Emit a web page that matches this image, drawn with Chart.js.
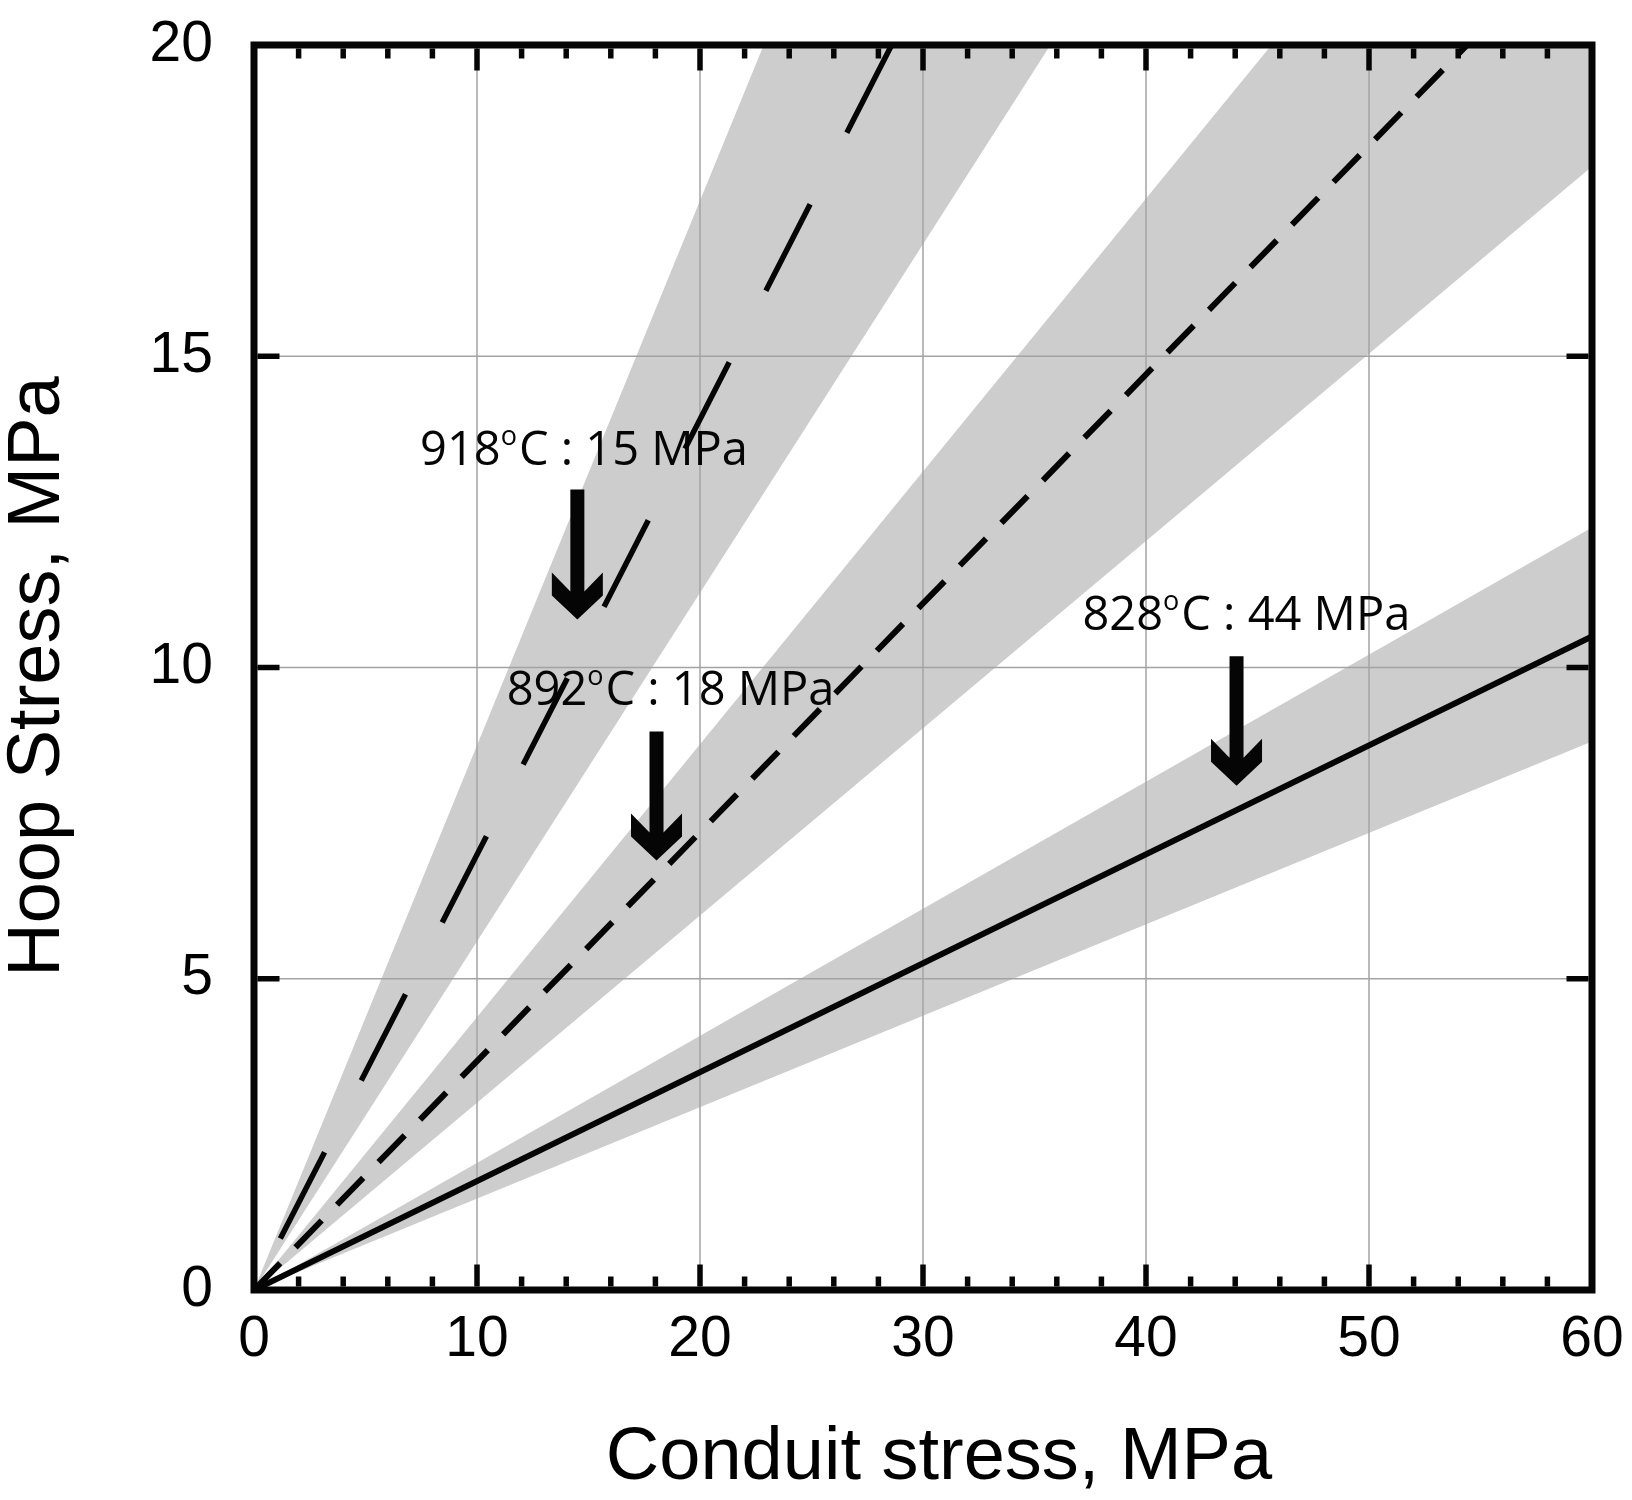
<!DOCTYPE html>
<html>
<head>
<meta charset="utf-8">
<script src="https://cdn.jsdelivr.net/npm/chart.js@4/dist/chart.umd.min.js"></script>
<style>
  html, body { margin: 0; padding: 0; background: #fff; }
  #wrap { width: 1632px; height: 1500px; }
</style>
</head>
<body>
<div id="wrap"><canvas id="c" width="1632" height="1500"></canvas></div>
<script>
// ---------- data ----------
const xTickValues = [0, 10, 20, 30, 40, 50, 60];
const yTickValues = [0, 5, 10, 15, 20];
const xTitle = 'Conduit stress, MPa';
const yTitle = 'Hoop Stress, MPa';
const lineX = [0, 60];                         // conduit stress, MPa
// Hoop stress at conduit stress 0 and 60 MPa (lines clipped at 20)
const line918 = [0, 41.96];
const line892 = [0, 22.06];
const line828 = [0, 10.5];
const band918Upper = [0, 52.5];
const band918Lower = [0, 33.6];
const band892Upper = [0, 26.3];
const band892Lower = [0, 18.05];
const band828Upper = [0, 12.25];
const band828Lower = [0, 8.81];
// annotations
const labelTemps = ['918', '892', '828'];
const labelStress = ['15', '18', '44'];
const labelX = [14.8, 18.68, 44.5];
const labelY = [13.25, 9.39, 10.61];
const arrowX = [14.5, 18.05, 44.06];
const arrowTop = [12.86, 8.97, 10.18];
const arrowTip = [10.77, 6.90, 8.10];

const pts = ys => lineX.map((x, i) => ({x: x, y: ys[i]}));
const GREY = '#cdcdcd';
const INK = '#050505';
const SANS = '"Liberation Sans", Arial, sans-serif';

function band(upper, lower) {
  return [
    {data: pts(upper), fill: '+1', backgroundColor: GREY, borderWidth: 0, borderColor: 'transparent', pointRadius: 0, showLine: true, order: 10},
    {data: pts(lower), fill: false, borderWidth: 0, borderColor: 'transparent', pointRadius: 0, showLine: true, order: 10}
  ];
}

const overlay = {
  id: 'overlay',
  beforeDatasetsDraw(chart) {
    const {ctx, chartArea: a, scales: {x, y}} = chart;
    ctx.save();
    ctx.strokeStyle = '#a3a3a3';
    ctx.lineWidth = 1.5;
    x.ticks.forEach(t => {
      const px = x.getPixelForValue(t.value);
      ctx.beginPath(); ctx.moveTo(px, a.top); ctx.lineTo(px, a.bottom); ctx.stroke();
    });
    y.ticks.forEach(t => {
      const py = y.getPixelForValue(t.value);
      ctx.beginPath(); ctx.moveTo(a.left, py); ctx.lineTo(a.right, py); ctx.stroke();
    });
    ctx.restore();
  },
  afterDatasetsDraw(chart) {
    const {ctx, chartArea: a, scales: {x, y}} = chart;
    ctx.save();
    // ticks (inside, all four sides)
    ctx.strokeStyle = INK;
    ctx.lineWidth = 5.5;
    const fw = 7;
    const inL = a.left + fw / 2, inR = a.right - fw / 2, inT = a.top + fw / 2, inB = a.bottom - fw / 2;
    const xt = x.ticks.map(t => t.value);
    for (let i = 0; i < xt.length; i++) {
      const px = x.getPixelForValue(xt[i]);
      ctx.beginPath(); ctx.moveTo(px, inB); ctx.lineTo(px, inB - 22); ctx.stroke();
      ctx.beginPath(); ctx.moveTo(px, inT); ctx.lineTo(px, inT + 22); ctx.stroke();
      if (i < xt.length - 1) {
        const step = (xt[i + 1] - xt[i]) / 5;
        for (let k = 1; k < 5; k++) {
          const mx = x.getPixelForValue(xt[i] + k * step);
          ctx.beginPath(); ctx.moveTo(mx, inB); ctx.lineTo(mx, inB - 10); ctx.stroke();
          ctx.beginPath(); ctx.moveTo(mx, inT); ctx.lineTo(mx, inT + 10); ctx.stroke();
        }
      }
    }
    y.ticks.forEach(t => {
      const py = y.getPixelForValue(t.value);
      ctx.beginPath(); ctx.moveTo(inL, py); ctx.lineTo(inL + 22, py); ctx.stroke();
      ctx.beginPath(); ctx.moveTo(inR, py); ctx.lineTo(inR - 22, py); ctx.stroke();
    });
    // frame
    ctx.lineWidth = fw;
    ctx.strokeRect(a.left, a.top, a.right - a.left, a.bottom - a.top);

    // arrows
    ctx.fillStyle = INK;
    for (let i = 0; i < arrowX.length; i++) {
      const cx = x.getPixelForValue(arrowX[i]);
      const top = y.getPixelForValue(arrowTop[i]);
      const tip = y.getPixelForValue(arrowTip[i]);
      const sw = 7, hw = 25.5;
      ctx.beginPath();
      ctx.moveTo(cx - sw, top); ctx.lineTo(cx + sw, top);
      ctx.lineTo(cx + sw, tip - 28);
      ctx.lineTo(cx + hw, tip - 47);
      ctx.lineTo(cx + hw, tip - 24);
      ctx.lineTo(cx, tip);
      ctx.lineTo(cx - hw, tip - 24);
      ctx.lineTo(cx - hw, tip - 47);
      ctx.lineTo(cx - sw, tip - 28);
      ctx.closePath();
      ctx.fill();
    }
    // labels
    const mainFont = '47px "Open Sans"';
    const supFont = '27px "Open Sans"';
    ctx.textAlign = 'left';
    ctx.textBaseline = 'alphabetic';
    for (let i = 0; i < labelTemps.length; i++) {
      const a1 = labelTemps[i], s = 'o', c1 = 'C : ' + labelStress[i] + ' MPa';
      ctx.font = mainFont;
      const w1 = ctx.measureText(a1).width, w3 = ctx.measureText(c1).width;
      ctx.font = supFont;
      const w2 = ctx.measureText(s).width;
      const gap = 2;
      const total = w1 + w2 + gap + w3;
      const cx = x.getPixelForValue(labelX[i]);
      const by = y.getPixelForValue(labelY[i]);
      const x0 = cx - total / 2;
      ctx.font = mainFont; ctx.fillText(a1, x0, by);
      ctx.font = supFont; ctx.fillText(s, x0 + w1, by - 20);
      ctx.font = mainFont; ctx.fillText(c1, x0 + w1 + w2 + gap, by);
    }
    ctx.restore();
  },
  afterDraw(chart) {
    const {ctx, chartArea: a} = chart;
    ctx.save();
    ctx.fillStyle = '#000';
    ctx.font = '74px ' + SANS;
    ctx.textAlign = 'center';
    ctx.textBaseline = 'middle';
    // axis titles
    ctx.fillText(xTitle, (a.left + a.right) / 2 + 16, 1459);
    ctx.translate(39, (a.top + a.bottom) / 2 + 9);
    ctx.rotate(-Math.PI / 2);
    ctx.fillText(yTitle, 0, 0);
    ctx.restore();
  }
};

const tickFont = {family: SANS, size: 57};

new Chart(document.getElementById('c'), {
  type: 'scatter',
  data: {
    datasets: [
      {data: pts(line828), borderColor: INK, borderWidth: 6, pointRadius: 0, showLine: true, fill: false, order: 1},
      {data: pts(line892), borderColor: INK, borderWidth: 6, borderDash: [37.5, 22], borderDashOffset: 0, pointRadius: 0, showLine: true, fill: false, order: 1},
      {data: pts(line918), borderColor: INK, borderWidth: 5.5, borderDash: [97, 80.5], borderDashOffset: 119.7, pointRadius: 0, showLine: true, fill: false, order: 1},
      ...band(band828Upper, band828Lower),
      ...band(band892Upper, band892Lower),
      ...band(band918Upper, band918Lower)
    ]
  },
  options: {
    responsive: false,
    animation: false,
    devicePixelRatio: 1,
    layout: {padding: {left: 0, top: 45, right: 40, bottom: 0}},
    plugins: {
      legend: {display: false},
      tooltip: {enabled: false},
      filler: {drawTime: 'beforeDatasetsDraw'}
    },
    scales: {
      x: {
        type: 'linear', min: 0, max: 60,
        afterBuildTicks: s => { s.ticks = xTickValues.map(v => ({value: v})); },
        ticks: {font: tickFont, color: '#000', padding: 16, maxRotation: 0, autoSkip: false},
        grid: {display: false, drawTicks: false, tickLength: 0},
        border: {display: false},
        title: {display: false, text: xTitle},
        afterFit: s => { s.height = 210; s.paddingLeft = 0; s.paddingRight = 0; }
      },
      y: {
        type: 'linear', min: 0, max: 20,
        afterBuildTicks: s => { s.ticks = yTickValues.map(v => ({value: v})); },
        ticks: {font: tickFont, color: '#000', padding: 41, autoSkip: false},
        grid: {display: false, drawTicks: false, tickLength: 0},
        border: {display: false},
        title: {display: false, text: yTitle},
        afterFit: s => { s.width = 254; s.paddingTop = 0; s.paddingBottom = 0; }
      }
    }
  },
  plugins: [overlay]
});
</script>
</body>
</html>
